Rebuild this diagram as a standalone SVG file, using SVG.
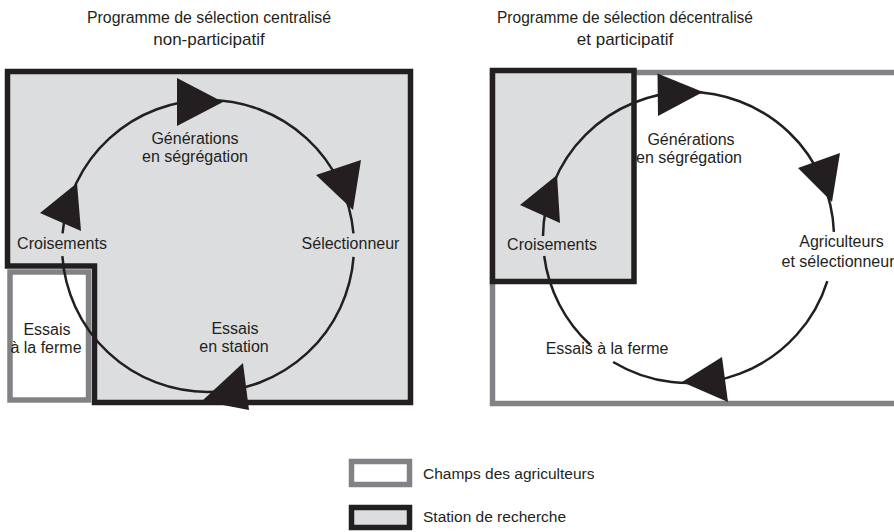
<svg xmlns="http://www.w3.org/2000/svg" width="894" height="532" viewBox="0 0 894 532">
<style>
text{font-family:"Liberation Sans",Arial,sans-serif;fill:#231f20;}
.lbl{font-size:16px;text-anchor:middle;}
.ttl{font-size:17px;text-anchor:middle;}
.leg{font-size:15.5px;}
.station{fill:#dcdddf;stroke:#231f20;stroke-width:5.5;}
.champ{fill:#ffffff;stroke:#808285;stroke-width:5.5;}
.cycle{fill:none;stroke:#231f20;stroke-width:2.5;}
.head{fill:#231f20;stroke:none;}
</style>
<rect width="894" height="532" fill="#ffffff"/>

<g id="titles">
  <text class="ttl" x="209" y="23" textLength="244" lengthAdjust="spacingAndGlyphs">Programme de sélection centralisé</text>
  <text class="ttl" x="209" y="45">non-participatif</text>
  <text class="ttl" x="625" y="23" textLength="256" lengthAdjust="spacingAndGlyphs">Programme de sélection décentralisé</text>
  <text class="ttl" x="625" y="45">et participatif</text>
</g>

<g id="areas">
  <path id="left-station" class="station" d="M7.5,71.5 H410.5 V402.5 H94.5 V266 H7.5 Z"/>
  <rect id="left-champ" class="champ" x="10" y="272" width="78.5" height="128"/>
  <rect id="right-champ" class="champ" x="492.5" y="72.5" width="500" height="331"/>
  <rect id="right-station" class="station" x="492.5" y="70.5" width="141.5" height="211"/>
</g>

<g id="connectors">
  <path class="cycle" d="M353.59,256.95 A146,146 0 0 1 62.36,256.18 M62.56,233.27 A146,146 0 0 1 353.44,233.27"/>
  <polygon class="head" points="177,78 177,126 223,102"/>
  <polygon class="head" points="316,175 361,160 353,210"/>
  <polygon class="head" points="40,213 77,183 81,231"/>
  <polygon class="head" points="202,401 243,363 249,410"/>

  <path class="cycle" d="M827.34,281.01 A145.5,145.5 0 0 1 613.13,361.95 M590.2,344.77 A145.5,145.5 0 0 1 544.18,255.99 M543.01,235.98 A145.5,145.5 0 0 1 833.89,231.91"/>
  <polygon class="head" points="657.5,73.5 658,116 703,92"/>
  <polygon class="head" points="798,168 840,153 832,202"/>
  <polygon class="head" points="520,205 557,175 560,223"/>
  <polygon class="head" points="682,382 722,357 728,402"/>
</g>

<g id="node-left-generations"><text class="lbl" x="195" y="143.5">Générations</text><text class="lbl" x="195" y="161.5">en ségrégation</text></g>
<g id="node-left-croisements"><text class="lbl" x="62" y="248.5">Croisements</text></g>
<g id="node-left-selectionneur"><text class="lbl" x="350.5" y="248.5">Sélectionneur</text></g>
<g id="node-left-station"><text class="lbl" x="235" y="333.5">Essais</text><text class="lbl" x="234" y="351.5">en station</text></g>
<g id="node-left-ferme"><text class="lbl" x="47" y="335">Essais</text><text class="lbl" x="46" y="353">à la ferme</text></g>

<g id="node-right-generations"><text class="lbl" x="691" y="145">Générations</text><text class="lbl" x="689" y="163">en ségrégation</text></g>
<g id="node-right-croisements"><text class="lbl" x="552" y="250">Croisements</text></g>
<g id="node-right-agriculteurs"><text class="lbl" x="841.5" y="247">Agriculteurs</text><text class="lbl" x="838" y="267">et sélectionneur</text></g>
<g id="node-right-ferme"><text class="lbl" x="607" y="353.5">Essais à la ferme</text></g>

<g id="legend">
  <g id="legend-champ"><rect class="champ" x="351.5" y="461.5" width="58" height="23" stroke-width="5"/><text class="leg" x="423" y="478.5">Champs des agriculteurs</text></g>
  <g id="legend-station"><rect class="station" x="351.5" y="507.5" width="58" height="20" stroke-width="5"/><text class="leg" x="423" y="522">Station de recherche</text></g>
</g>
</svg>
